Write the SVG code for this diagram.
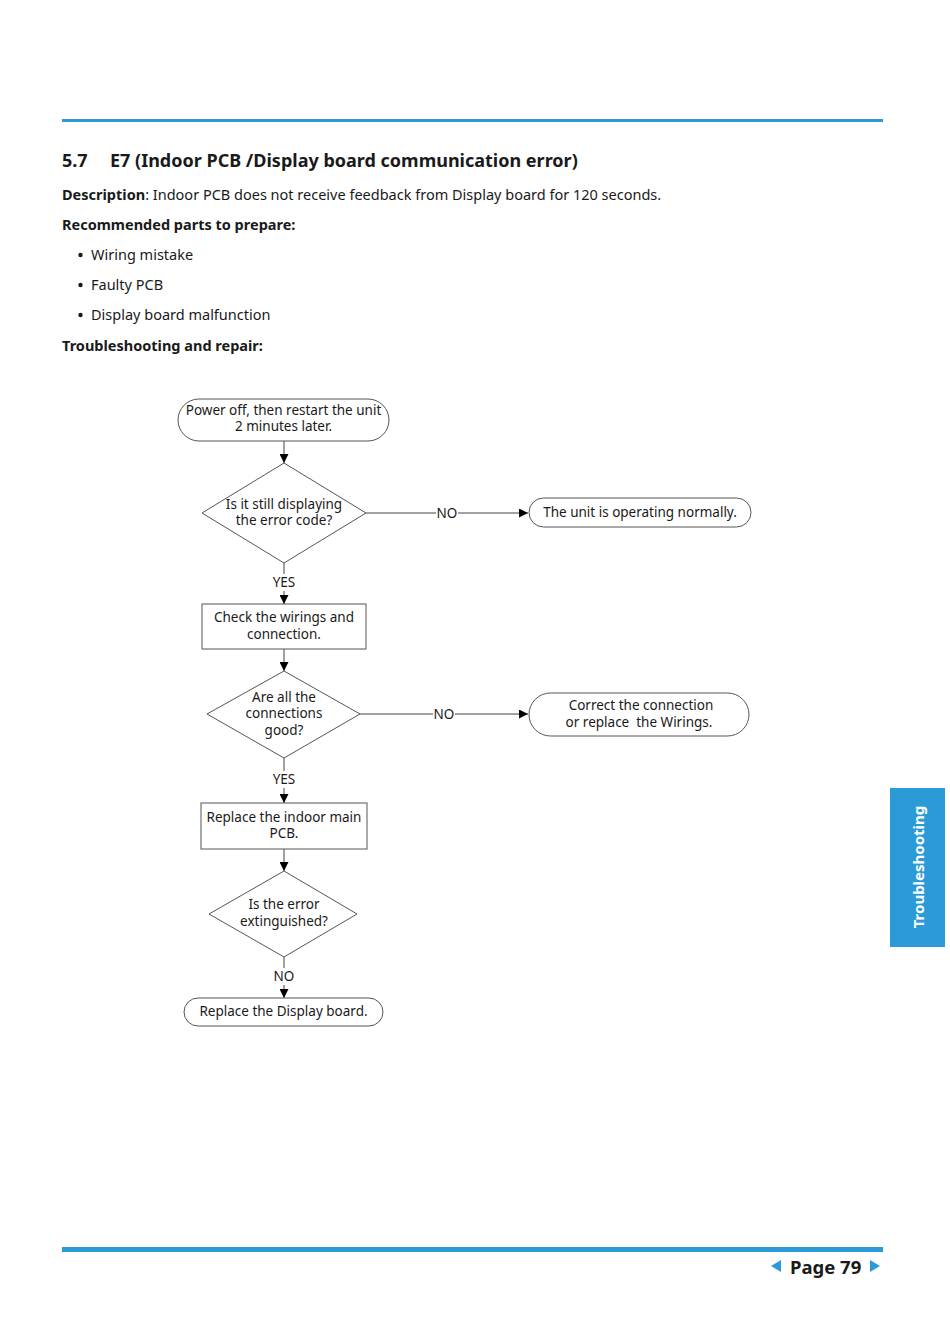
<svg xmlns="http://www.w3.org/2000/svg" width="950" height="1337" viewBox="0 0 950 1337">
<style>
text{font-family:"Noto Sans","Open Sans","DejaVu Sans",sans-serif;fill:#1a1a1a}
.t{font-size:13.5px;text-anchor:middle}
.b{font-weight:bold}
.body{font-size:14.5px}
.shape{fill:#fff;stroke:#555;stroke-width:1}
.ln{stroke:#444;stroke-width:1;fill:none}
</style>
<defs>
<marker id="ah" viewBox="0 0 10 10" refX="10" refY="5" markerWidth="9" markerHeight="9" markerUnits="userSpaceOnUse" orient="auto">
<path d="M0,0 L10,5 L0,10 z" fill="#000"/>
</marker>
</defs>
<rect width="950" height="1337" fill="#fff"/>
<rect x="62" y="119" width="821" height="3" fill="#2a9bd7"/>
<text x="62" y="167" font-size="18" class="b">5.7</text>
<text x="110" y="167" font-size="18" class="b">E7 (Indoor PCB /Display board communication error)</text>
<text x="62" y="200" class="body"><tspan class="b">Description</tspan>: Indoor PCB does not receive feedback from Display board for 120 seconds.</text>
<text x="62" y="230" class="body b">Recommended parts to prepare:</text>
<circle cx="80.5" cy="255" r="2.2" fill="#1a1a1a"/>
<text x="91" y="260" class="body">Wiring mistake</text>
<circle cx="80.5" cy="285" r="2.2" fill="#1a1a1a"/>
<text x="91" y="290" class="body">Faulty PCB</text>
<circle cx="80.5" cy="315" r="2.2" fill="#1a1a1a"/>
<text x="91" y="320" class="body">Display board malfunction</text>
<text x="62" y="351" class="body b">Troubleshooting and repair:</text>

<g id="connectors">
<line class="ln" x1="284" y1="441" x2="284" y2="463" marker-end="url(#ah)"/>
<line class="ln" x1="366" y1="513" x2="436" y2="513"/>
<line class="ln" x1="458" y1="513" x2="528" y2="513" marker-end="url(#ah)"/>
<text x="447" y="518" class="t">NO</text>
<line class="ln" x1="284" y1="563" x2="284" y2="574"/>
<text x="284" y="587" class="t">YES</text>
<line class="ln" x1="284" y1="591" x2="284" y2="604" marker-end="url(#ah)"/>
<line class="ln" x1="284" y1="649" x2="284" y2="671" marker-end="url(#ah)"/>
<line class="ln" x1="360" y1="714" x2="433" y2="714"/>
<line class="ln" x1="455" y1="714" x2="528" y2="714" marker-end="url(#ah)"/>
<text x="444" y="719" class="t">NO</text>
<line class="ln" x1="284" y1="758" x2="284" y2="771"/>
<text x="284" y="784" class="t">YES</text>
<line class="ln" x1="284" y1="788" x2="284" y2="803" marker-end="url(#ah)"/>
<line class="ln" x1="284" y1="849" x2="284" y2="871" marker-end="url(#ah)"/>
<line class="ln" x1="284" y1="957" x2="284" y2="968"/>
<text x="284" y="981" class="t">NO</text>
<line class="ln" x1="284" y1="985" x2="284" y2="998" marker-end="url(#ah)"/>
</g>

<g id="start">
<rect class="shape" x="178" y="399" width="211" height="42" rx="21" ry="21"/>
<text x="283.5" y="415" class="t">Power off, then restart the unit</text>
<text x="283.5" y="431" class="t">2 minutes later.</text>
</g>
<g id="d1">
<polygon class="shape" points="284,463 366,513 284,563 202,513"/>
<text x="284" y="509" class="t">Is it still displaying</text>
<text x="284" y="525" class="t">the error code?</text>
</g>
<g id="normal">
<rect class="shape" x="529" y="498" width="222" height="29" rx="14.5" ry="14.5"/>
<text x="640" y="517" class="t">The unit is operating normally.</text>
</g>
<g id="check">
<rect class="shape" x="202" y="604" width="164" height="45"/>
<text x="284" y="622" class="t">Check the wirings and</text>
<text x="284" y="639" class="t">connection.</text>
</g>
<g id="d2">
<polygon class="shape" points="284,671 360,714 284,758 207,714"/>
<text x="284" y="702" class="t">Are all the</text>
<text x="284" y="718" class="t">connections</text>
<text x="284" y="735" class="t">good?</text>
</g>
<g id="correct">
<rect class="shape" x="529" y="693" width="220" height="43" rx="21.5" ry="21.5"/>
<text x="641" y="710" class="t">Correct the connection</text>
<text x="639" y="727" class="t" xml:space="preserve">or replace  the Wirings.</text>
</g>
<g id="replacepcb">
<rect class="shape" x="201" y="803" width="166" height="46"/>
<text x="284" y="822" class="t">Replace the indoor main</text>
<text x="284" y="838" class="t">PCB.</text>
</g>
<g id="d3">
<polygon class="shape" points="284,871 357,914 284,957 209,914"/>
<text x="284" y="909" class="t">Is the error</text>
<text x="284" y="926" class="t">extinguished?</text>
</g>
<g id="display">
<rect class="shape" x="184" y="998" width="199" height="28" rx="14" ry="14"/>
<text x="283.5" y="1016" class="t">Replace the Display board.</text>
</g>

<rect x="890" y="788" width="55" height="159" fill="#2a9bd7"/>
<text transform="translate(924,867) rotate(-90)" font-size="15" class="b" text-anchor="middle" style="fill:#fff">Troubleshooting</text>

<rect x="62" y="1247" width="821" height="5" fill="#2a9bd7"/>
<polygon points="771,1266 781,1260 781,1272" fill="#2a9bd7"/>
<text x="790" y="1274" font-size="18.5" class="b">Page 79</text>
<polygon points="880,1266 870,1260 870,1272" fill="#2a9bd7"/>
</svg>
